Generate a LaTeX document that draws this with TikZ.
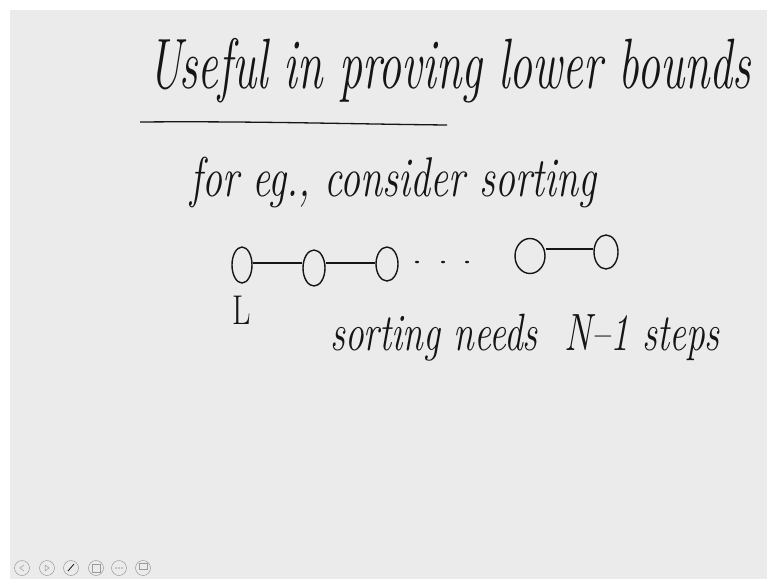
\documentclass[tikz,border=0pt]{standalone}
\usepackage{graphicx}
\usetikzlibrary{shapes.geometric}
\definecolor{board}{HTML}{EBEBEB}
\definecolor{ink}{HTML}{151515}
\definecolor{icon}{HTML}{9A9A9A}
\tikzset{
  hand/.style={text=ink, inner sep=0pt, font=\itshape},
  vert/.style={draw=ink, line width=1.4pt, ellipse, inner sep=0pt},
  edge/.style={draw=ink, line width=1.3pt},
  dotm/.style={fill=ink, ellipse, inner sep=0pt, minimum width=4pt, minimum height=2.5pt},
  tool/.style={draw=icon, line width=0.5pt, circle, minimum size=15pt, inner sep=0pt}
}
\begin{document}
\begin{tikzpicture}[x=1pt,y=-1pt]
\useasboundingbox (0,0) rectangle (767,579);
\fill[white] (0,0) rectangle (767,579);
\fill[board] (10,10) rectangle (767,579);

% title
\node[hand, anchor=base west, font=\itshape\fontsize{46}{54}\selectfont] (title) at (148,88) {\scalebox{1}[1.55]{Useful in proving lower bounds}};
\coordinate (ul1) at (140,122);
\coordinate (ul2) at (447,125);
\draw[edge] (ul1) .. controls (250,121) and (350,124) .. (ul2);

\node[hand, anchor=base west, font=\itshape\fontsize{40}{46}\selectfont] (eg) at (190,196) {\scalebox{1}[1.4]{for eg., consider sorting}};

% chain
\node[vert, minimum width=20pt, minimum height=36pt] (v1) at (242,265) {};
\node[vert, minimum width=22pt, minimum height=36pt] (v2) at (314,268) {};
\node[vert, minimum width=22pt, minimum height=34pt] (v3) at (387,264) {};
\node[vert, minimum width=30pt, minimum height=35pt] (v4) at (530,256) {};
\node[vert, minimum width=24pt, minimum height=34pt] (v5) at (606,252) {};
\draw[edge] ([yshift=2pt]v1.east) -- ([yshift=2pt]v1.east -| v2.west);
\draw[edge] ([yshift=1pt]v3.west -| v2.east) -- ([yshift=1pt]v3.west);
\draw[edge] ([yshift=3pt]v5.west -| v4.east) -- ([yshift=3pt]v5.west);
\node[dotm] (d1) at (417,262) {};
\node[dotm] (d2) at (443,262) {};
\node[dotm] (d3) at (467,262) {};

\node[hand, anchor=base west, font=\upshape\fontsize{32}{40}\selectfont] (L) at (232,324) {\scalebox{1}[1.3]{L}};
\node[hand, anchor=base west, font=\itshape\fontsize{37.5}{44}\selectfont] (sort) at (330,350) {\scalebox{1}[1.4]{sorting needs \ N--1 steps}};

% toolbar
\foreach \i/\x in {1/22,2/47,3/71,4/96,5/119,6/143}{
  \node[tool] (t\i) at (\x,568) {};
}
\draw[icon, line width=0.5pt] ([xshift=2pt,yshift=3pt]t1.center) -- ([xshift=-2pt]t1.center) -- ([xshift=2pt,yshift=-3pt]t1.center);
\draw[icon, line width=0.5pt] ([xshift=-2pt,yshift=3pt]t2.center) -- ([xshift=2pt]t2.center) -- ([xshift=-2pt,yshift=-3pt]t2.center) -- cycle;
\draw[ink, line width=0.8pt] ([xshift=-3pt,yshift=-3pt]t3.center) -- ([xshift=3pt,yshift=4pt]t3.center);
\draw[icon, line width=0.5pt] ([xshift=-4pt,yshift=-4pt]t4.center) rectangle ([xshift=4pt,yshift=4pt]t4.center);
\foreach \dx in {-3,0,3}{\fill[icon] ([xshift=\dx pt]t5.center) circle (0.8pt);}
\draw[icon, line width=0.5pt] ([xshift=-4pt,yshift=-1pt]t6.center) rectangle ([xshift=4pt,yshift=5pt]t6.center);
\end{tikzpicture}
\end{document}
